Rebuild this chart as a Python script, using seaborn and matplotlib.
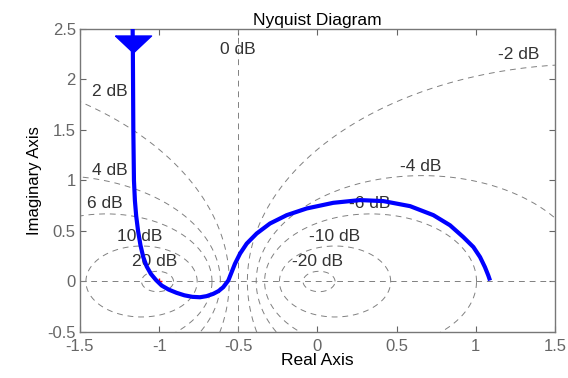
import numpy as np
import pandas as pd
import matplotlib
matplotlib.use("Agg")
import matplotlib.pyplot as plt
import seaborn as sns

# Nyquist curve (real, imaginary)
curva_re = [-1.168, -1.166, -1.163, -1.159, -1.153, -1.145, -1.133, -1.118, -1.100,
            -1.079, -1.052, -1.020, -0.984, -0.940, -0.890, -0.840, -0.790, -0.742,
            -0.700, -0.658, -0.625, -0.595, -0.563, -0.542, -0.521, -0.489, -0.447,
            -0.384, -0.300, -0.194, -0.068, 0.100, 0.269, 0.416, 0.585, 0.732,
            0.837, 0.921, 0.985, 1.027, 1.058, 1.079, 1.090]
curva_im = [2.60, 2.30, 1.50, 1.00, 0.80, 0.65, 0.50, 0.36, 0.24,
            0.15, 0.075, 0.015, -0.040, -0.080, -0.112, -0.137, -0.152, -0.156,
            -0.145, -0.122, -0.095, -0.056, 0.010, 0.093, 0.176, 0.276, 0.375,
            0.475, 0.574, 0.657, 0.723, 0.779, 0.806, 0.796, 0.746, 0.657,
            0.557, 0.440, 0.341, 0.242, 0.142, 0.060, 0.010]

# M-circles (dB) and where their labels sit
ganhos_db = [-20, -10, -6, -4, -2, 0, 2, 4, 6, 10, 20]
rotulo_x = [0.0, 0.11, 0.33, 0.65, 1.27, -0.5, -1.31, -1.31, -1.34, -1.12, -1.03]
rotulo_y = [0.20, 0.45, 0.77, 1.14, 2.25, 2.30, 1.88, 1.10, 0.77, 0.45, 0.20]

x_ticks = [-1.5, -1, -0.5, 0, 0.5, 1, 1.5]
y_ticks = [-0.5, 0, 0.5, 1, 1.5, 2, 2.5]

sns.set_style("ticks")
plt.rcParams["font.family"] = ["Liberation Sans", "DejaVu Sans"]

fig = plt.figure(figsize=(5.68, 3.78), dpi=100)
ax = fig.add_axes([0.1408, 0.1217, 0.977 - 0.1408, 0.9233 - 0.1217])

cinza = "#808080"
estilo_grade = dict(color=cinza, lw=0.7, dashes=(6, 5), zorder=1)

# circulos M
t = np.linspace(0, 2 * np.pi, 721)
for db in ganhos_db:
    if db == 0:
        ax.axvline(-0.5, **estilo_grade)
        continue
    m2 = (10 ** (db / 20)) ** 2
    cx = -m2 / (m2 - 1)
    r = np.sqrt(m2) / abs(m2 - 1)
    ax.plot(cx + r * np.cos(t), r * np.sin(t), **estilo_grade)
ax.axhline(0, **estilo_grade)

for db, tx, ty in zip(ganhos_db, rotulo_x, rotulo_y):
    ax.text(tx, ty, f"{db} dB", ha="center", va="center", fontsize=12.5,
            color="#333333", zorder=2)

# curva de Nyquist
df = pd.DataFrame({"re": curva_re, "im": curva_im})
sns.lineplot(data=df, x="re", y="im", sort=False, color="#0000ff", lw=3,
             ax=ax, zorder=3, solid_joinstyle="round", solid_capstyle="butt")

# seta no ramo superior
seta_y = 2.35
seta_x = np.interp(seta_y, curva_im[:3][::-1], curva_re[:3][::-1])
seta = [(-1, 0.47), (1, 0.47), (0, -0.47), (-1, 0.47)]
ax.plot([seta_x], [seta_y], marker=seta, markersize=26, color="#0000ff",
        ls="none", zorder=4)

# ponto critico
ax.plot([-1], [0], marker="+", color="red", markersize=5, mew=1, zorder=2)

ax.set_xlim(-1.5, 1.5)
ax.set_ylim(-0.5, 2.5)
ax.set_xticks(x_ticks)
ax.set_yticks(y_ticks)
ax.set_xticklabels(["-1.5", "-1", "-0.5", "0", "0.5", "1", "1.5"])
ax.set_yticklabels(["-0.5", "0", "0.5", "1", "1.5", "2", "2.5"])
ax.tick_params(direction="in", top=True, right=True, length=4, width=0.8,
               color="#666666", labelcolor="#666666", labelsize=12)
ax.tick_params(axis="x", pad=5)
ax.tick_params(axis="y", pad=3)
for lado in ax.spines.values():
    lado.set_visible(True)
    lado.set_color("#777777")
    lado.set_linewidth(1.0)

ax.set_title("Nyquist Diagram", fontsize=12.5, color="black", pad=3)
ax.set_xlabel("Real Axis", fontsize=12.5, color="black", labelpad=-1)
ax.set_ylabel("Imaginary Axis", fontsize=12, color="black", labelpad=4)

fig.savefig("out.png", dpi=100)
